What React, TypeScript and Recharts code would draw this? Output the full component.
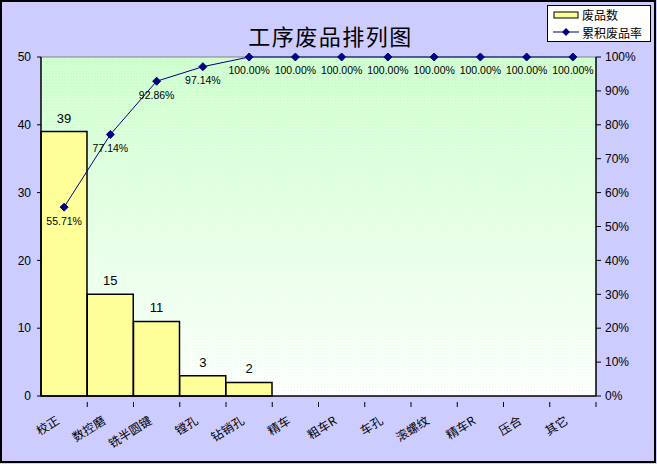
import { CSSProperties } from "react";
import {
  ComposedChart,
  Bar,
  Line,
  XAxis,
  YAxis,
  CartesianGrid,
  LabelList,
  Legend,
  ReferenceLine,
} from "recharts";

const categories = ["校正", "数控磨", "铣半圆键", "镗孔", "钻销孔", "精车", "粗车R", "车孔", "滚螺纹", "精车R", "压合", "其它"];
const rejects = [39, 15, 11, 3, 2, 0, 0, 0, 0, 0, 0, 0];
const cumulativeRate = [55.71, 77.14, 92.86, 97.14, 100, 100, 100, 100, 100, 100, 100, 100];
const leftTicks = [0, 10, 20, 30, 40, 50];
const rightTicks = [0, 10, 20, 30, 40, 50, 60, 70, 80, 90, 100];

const W = 657;
const H = 464;
const PLOT_LEFT = 41;
const PLOT_RIGHT = 596;
const PLOT_TOP = 57;
const PLOT_BOTTOM = 396;
const BAND = (PLOT_RIGHT - PLOT_LEFT) / categories.length;
const NUM_FONT = "'Liberation Sans', Arial, sans-serif";
const CJK_FONT = "'Noto Sans CJK SC', 'Noto Sans', sans-serif";
const NAVY = "#000080";

const data = categories.map((name, i) => ({
  name,
  rejects: rejects[i],
  rate: cumulativeRate[i],
}));

function Diamond({ cx, cy }: { cx?: number; cy?: number }) {
  if (cx == null || cy == null) return null;
  const r = 4;
  return (
    <polygon
      points={`${cx},${cy - r} ${cx + r},${cy} ${cx},${cy + r} ${cx - r},${cy}`}
      fill={NAVY}
      stroke={NAVY}
    />
  );
}

function CategoryTick({ x, y, payload }: any) {
  return (
    <g>
      <line x1={x + BAND / 2} y1={y - 2} x2={x + BAND / 2} y2={y + 3} stroke="#000" />
      <text
        x={x - 4}
        y={y + 19}
        textAnchor="end"
        transform={`rotate(-32, ${x - 4}, ${y + 19})`}
        fontFamily={CJK_FONT}
        fontSize={12}
        fill="#000"
      >
        {payload.value}
      </text>
    </g>
  );
}

function LegendBox() {
  const box: CSSProperties = {
    background: "#fff",
    border: "1px solid #000",
    width: 104,
    height: 37,
    boxSizing: "border-box",
    fontFamily: CJK_FONT,
    fontSize: 12,
    lineHeight: "17px",
    color: "#000",
    padding: "0 0 0 5px",
    textAlign: "left",
  };
  const row: CSSProperties = { display: "flex", alignItems: "center", height: 17.5 };
  return (
    <div style={box}>
      <div style={row}>
        <svg width={26} height={10} style={{ marginRight: 3 }}>
          <rect x={1} y={2} width={24} height={6} fill="#ffff99" stroke="#000" />
        </svg>
        <span>废品数</span>
      </div>
      <div style={row}>
        <svg width={26} height={10} style={{ marginRight: 3 }}>
          <line x1={0} y1={5} x2={26} y2={5} stroke={NAVY} />
          <polygon points="13,1 17,5 13,9 9,5" fill={NAVY} />
        </svg>
        <span>累积废品率</span>
      </div>
    </div>
  );
}

export default function App() {
  const pageStyle: CSSProperties = {
    position: "absolute",
    left: 0,
    top: 0,
    width: W,
    height: H,
    background: "#ccccff",
  };
  const titleStyle: CSSProperties = {
    position: "absolute",
    left: 0,
    width: W,
    top: 20,
    textAlign: "center",
    fontFamily: CJK_FONT,
    fontSize: 22,
    lineHeight: "30px",
    color: "#000",
    letterSpacing: "1.5px",
    paddingLeft: 2,
  };
  const borderStyle: CSSProperties = {
    position: "absolute",
    left: 0,
    top: 0,
    width: W - 1,
    height: H - 1,
    border: "2px solid #000",
    boxSizing: "border-box",
    pointerEvents: "none",
  };

  return (
    <div style={pageStyle}>
      <div style={titleStyle}>工序废品排列图</div>
      <ComposedChart
        width={W}
        height={H}
        data={data}
        margin={{ top: PLOT_TOP, right: 0, bottom: 0, left: 0 }}
        barCategoryGap={0}
        style={{ position: "absolute", left: 0, top: 0 }}
      >
        <defs>
          <linearGradient id="plotBg" x1="0" y1="0" x2="0" y2="1">
            <stop offset="0%" stopColor="#ccffcc" />
            <stop offset="100%" stopColor="#ffffff" />
          </linearGradient>
          <pattern id="plotDots" width={3} height={3} patternUnits="userSpaceOnUse">
            <rect x={0} y={0} width={1} height={1} fill="#e6ffe6" />
          </pattern>
        </defs>
        <CartesianGrid horizontal={false} vertical={false} fill="url(#plotBg)" fillOpacity={1} yAxisId="left" />
        <CartesianGrid horizontal={false} vertical={false} fill="url(#plotDots)" fillOpacity={1} yAxisId="left" />
        <XAxis
          dataKey="name"
          height={H - PLOT_BOTTOM}
          tick={<CategoryTick />}
          tickLine={false}
          axisLine={{ stroke: "#000", strokeWidth: 1.5 }}
          interval={0}
        />
        <YAxis
          yAxisId="left"
          orientation="left"
          width={PLOT_LEFT}
          domain={[0, 50]}
          ticks={leftTicks}
          tickSize={4}
          tickMargin={6}
          tick={{ fontFamily: NUM_FONT, fontSize: 12, fill: "#000" }}
          axisLine={{ stroke: "#000", strokeWidth: 1.5 }}
          tickLine={{ stroke: "#000" }}
        />
        <YAxis
          yAxisId="right"
          orientation="right"
          width={W - PLOT_RIGHT}
          domain={[0, 100]}
          ticks={rightTicks}
          tickSize={5}
          tickMargin={4}
          tickFormatter={(v: number) => `${v}%`}
          tick={{ fontFamily: NUM_FONT, fontSize: 12, fill: "#000", textAnchor: "start" }}
          axisLine={{ stroke: "#000", strokeWidth: 1.5 }}
          tickLine={{ stroke: "#000" }}
        />
        <ReferenceLine yAxisId="left" y={50} stroke="#808080" />
        <Bar
          yAxisId="left"
          dataKey="rejects"
          fill="#ffff99"
          stroke="#000"
          strokeWidth={1.5}
          isAnimationActive={false}
        >
          <LabelList
            dataKey="rejects"
            position="top"
            offset={9}
            formatter={(v: any) => (v ? String(v) : "")}
            style={{ fontFamily: NUM_FONT, fontSize: 13, fill: "#000" }}
          />
        </Bar>
        <Line
          yAxisId="right"
          dataKey="rate"
          stroke={NAVY}
          strokeWidth={1}
          dot={<Diamond />}
          activeDot={false}
          isAnimationActive={false}
        >
          <LabelList
            dataKey="rate"
            position="bottom"
            offset={10}
            formatter={(v: any) => `${Number(v).toFixed(2)}%`}
            style={{ fontFamily: NUM_FONT, fontSize: 10.5, fill: "#000" }}
          />
        </Line>
        <Legend
          layout="vertical"
          align="center"
          verticalAlign="middle"
          content={<LegendBox />}
          wrapperStyle={{ left: 547, top: 5, width: 104, height: 37, bottom: "auto", right: "auto" }}
        />
      </ComposedChart>
      <div style={borderStyle} />
    </div>
  );
}
